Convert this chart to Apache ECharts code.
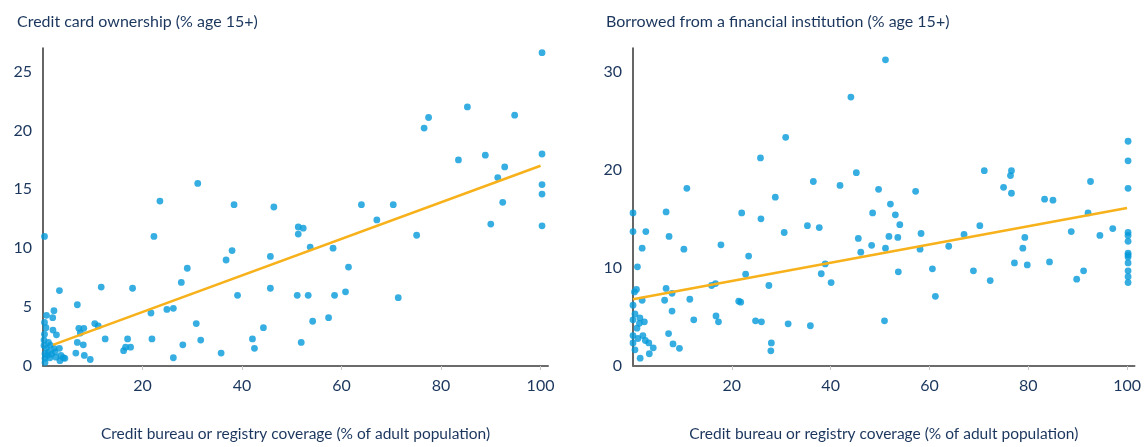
<!DOCTYPE html>
<html>
<head>
<meta charset="utf-8">
<script src="https://cdn.jsdelivr.net/npm/echarts@6/dist/echarts.min.js"></script>
<style>
html,body{margin:0;padding:0;background:#fff;}
#chart{width:1144px;height:447px;}
</style>
</head>
<body>
<div id="chart"></div>
<script>
const titleLeft = 'Credit card ownership (% age 15+)';
const titleRight = 'Borrowed from a financial institution (% age 15+)';
const xAxisName = 'Credit bureau or registry coverage (% of adult population)';

// Left panel: credit card ownership vs. credit bureau coverage
const creditX = [23.5,31.1,38.4,46.4,64.0,70.4,67.1,76.6,77.5,85.3,94.8,100.3,83.5,88.9,92.8,91.4,100.3,100.3,100.3,92.4,90.0,100.3,75.1,51.3,52.3,51.3,53.7,58.3,61.4,45.7,45.7,60.8,51.1,53.3,58.6,71.4,57.4,54.2,51.9,0.3,22.3,38.0,36.8,29.0,27.8,39.1,11.7,18.0,3.3,6.9,2.2,0.7,1.95,0.3,21.7,24.9,26.2,10.4,11.1,30.8,44.3,7.2,8.2,7.5,0.6,2.7,0.3,12.5,17.0,21.9,31.7,42.1,6.9,8.1,28.1,16.6,17.6,16.2,42.5,6.6,8.3,35.8,9.5,26.2,3.4,4.4,3.6,2.0,0.2,1.1,1.5,0.7,2.2,3.3,4.1,2.6,1.4,0.4,0.4,0.4,1.7,1.1,0.2,2.4,0.8];
const creditY = [14.0,15.5,13.7,13.5,13.7,13.7,12.4,20.2,21.1,22.0,21.3,26.6,17.5,17.9,16.9,16.0,18.0,15.4,14.6,13.9,12.05,11.9,11.1,11.8,11.7,11.2,10.1,10.0,8.4,9.3,6.6,6.3,6.0,6.0,6.0,5.8,4.1,3.8,2.0,11.0,11.0,9.8,9.0,8.3,7.1,6.0,6.7,6.6,6.4,5.2,4.7,4.3,4.1,3.7,4.5,4.8,4.9,3.6,3.4,3.6,3.25,3.2,3.2,2.8,3.25,2.65,2.7,2.3,2.3,2.3,2.2,2.3,2.0,1.8,1.8,1.6,1.6,1.3,1.5,1.1,0.9,1.1,0.55,0.7,0.45,0.65,0.9,3.05,2.2,2.0,1.75,1.5,1.5,1.5,0.7,0.75,0.7,1.05,0.65,0.3,1.0,1.2,1.75,1.2,0.9];
const creditFitX = [2, 100];
const creditFitY = [1.8, 17.0];

// Right panel: borrowed from a financial institution vs. credit bureau coverage
const borrowX = [0.0,6.7,10.9,22.0,25.9,25.8,28.8,30.9,36.5,41.9,44.1,45.2,51.1,49.7,57.2,52.1,48.5,53.1,54.0,71.1,76.6,76.4,75.0,76.6,83.3,85.0,92.6,92.1,100.2,100.2,100.2,70.2,45.6,46.1,51.8,53.6,48.3,51.1,58.3,58.1,63.9,67.0,53.7,60.6,61.2,50.9,68.9,72.3,77.2,78.9,79.3,79.8,84.3,88.7,89.8,91.2,94.5,97.1,100.2,100.2,100.2,100.2,100.2,100.2,100.2,100.2,100.2,100.2,0.0,2.6,7.3,1.85,10.3,17.8,30.6,35.3,37.7,23.4,0.9,22.8,38.1,38.9,40.1,27.5,15.9,16.7,0.3,0.7,6.7,7.9,1.85,6.4,11.5,0.0,21.4,21.8,7.9,0.4,1.4,0.0,2.3,1.3,0.8,12.3,16.8,17.3,24.8,26.0,31.4,35.9,7.2,2.0,0.0,1.0,2.5,3.2,0.0,8.1,28.0,9.4,4.1,0.4,3.3,27.9,1.45];
const borrowY = [15.6,15.7,18.1,15.6,15.0,21.2,17.2,23.3,18.8,18.4,27.4,19.7,31.2,18.0,17.8,16.5,15.6,15.4,14.4,19.9,19.9,19.4,18.2,17.6,17.0,16.9,18.8,15.6,22.9,20.9,18.1,14.3,13.0,11.6,13.2,13.1,12.3,12.0,13.5,11.9,12.2,13.4,9.6,9.9,7.1,4.6,9.7,8.7,10.5,12.0,13.1,10.3,10.6,13.7,8.85,9.7,13.3,14.0,13.6,13.3,12.7,11.5,11.3,11.1,10.5,9.7,9.1,8.5,13.7,13.7,13.2,12.0,11.9,12.35,13.6,14.3,14.1,11.2,10.1,9.35,9.4,10.4,8.5,8.2,8.2,8.4,7.55,7.8,7.9,7.4,6.7,6.7,6.8,6.2,6.6,6.5,5.6,5.3,4.9,4.7,4.5,4.35,3.85,4.7,5.1,4.5,4.6,4.5,4.3,4.1,3.3,3.1,3.1,2.8,2.6,2.35,2.35,2.25,2.35,1.8,1.85,1.65,1.25,1.55,0.8];
const borrowFitX = [0, 100];
const borrowFitY = [6.8, 16.1];

const xTicksStep = 20;
const leftYStep = 5;
const rightYStep = 10;

const pairs = (xs, ys) => xs.map((x, i) => [x, ys[i]]);

const NAVY = '#1b365d';
const BLUE = '#059ad9';
const ORANGE = '#f7b11b';
const FONT = 'Lato';

function xAxisCfg(gridIndex) {
  return {
    gridIndex, type: 'value', min: 0, max: 101.5, interval: xTicksStep,
    name: xAxisName, nameLocation: 'middle', nameGap: 60,
    nameTextStyle: {color: NAVY, fontSize: 15.5, fontFamily: FONT},
    axisLine: {show: true, lineStyle: {color: '#6b6b6b', width: 2}},
    axisTick: {show: true, length: 4, lineStyle: {color: '#c8c8c8'}},
    axisLabel: {color: NAVY, fontSize: 16, fontFamily: FONT, margin: 12, showMinLabel: false, showMaxLabel: false},
    splitLine: {show: false}
  };
}
function yAxisCfg(gridIndex, max, step) {
  return {
    gridIndex, type: 'value', min: 0, max, interval: step,
    axisLine: {show: true, lineStyle: {color: '#333', width: 1.5}},
    axisTick: {show: false},
    axisLabel: {color: NAVY, fontSize: 16, fontFamily: FONT, margin: 11, showMaxLabel: false},
    splitLine: {show: false}
  };
}

const chart = echarts.init(document.getElementById('chart'));
chart.setOption({
  animation: false,
  backgroundColor: '#fff',
  title: [
    {text: titleLeft, left: 12, top: 9, textStyle: {color: NAVY, fontSize: 16, fontWeight: 'normal', fontFamily: FONT}},
    {text: titleRight, left: 601, top: 9, textStyle: {color: NAVY, fontSize: 16, fontWeight: 'normal', fontFamily: FONT}}
  ],
  grid: [
    {left: 43, top: 48, width: 505, height: 331},
    {left: 633, top: 48, width: 505, height: 331}
  ],
  xAxis: [xAxisCfg(0), xAxisCfg(1)],
  yAxis: [yAxisCfg(0, 27, leftYStep), yAxisCfg(1, 32.4, rightYStep)],
  series: [
    {type: 'scatter', xAxisIndex: 0, yAxisIndex: 0, data: pairs(creditX, creditY), symbolSize: 6.8, itemStyle: {color: BLUE}, z: 2},
    {type: 'line', xAxisIndex: 0, yAxisIndex: 0, data: pairs(creditFitX, creditFitY), showSymbol: false, lineStyle: {color: ORANGE, width: 2.5}, z: 3},
    {type: 'scatter', xAxisIndex: 1, yAxisIndex: 1, data: pairs(borrowX, borrowY), symbolSize: 6.8, itemStyle: {color: BLUE}, z: 2},
    {type: 'line', xAxisIndex: 1, yAxisIndex: 1, data: pairs(borrowFitX, borrowFitY), showSymbol: false, lineStyle: {color: ORANGE, width: 2.5}, z: 3}
  ]
});
</script>
</body>
</html>
